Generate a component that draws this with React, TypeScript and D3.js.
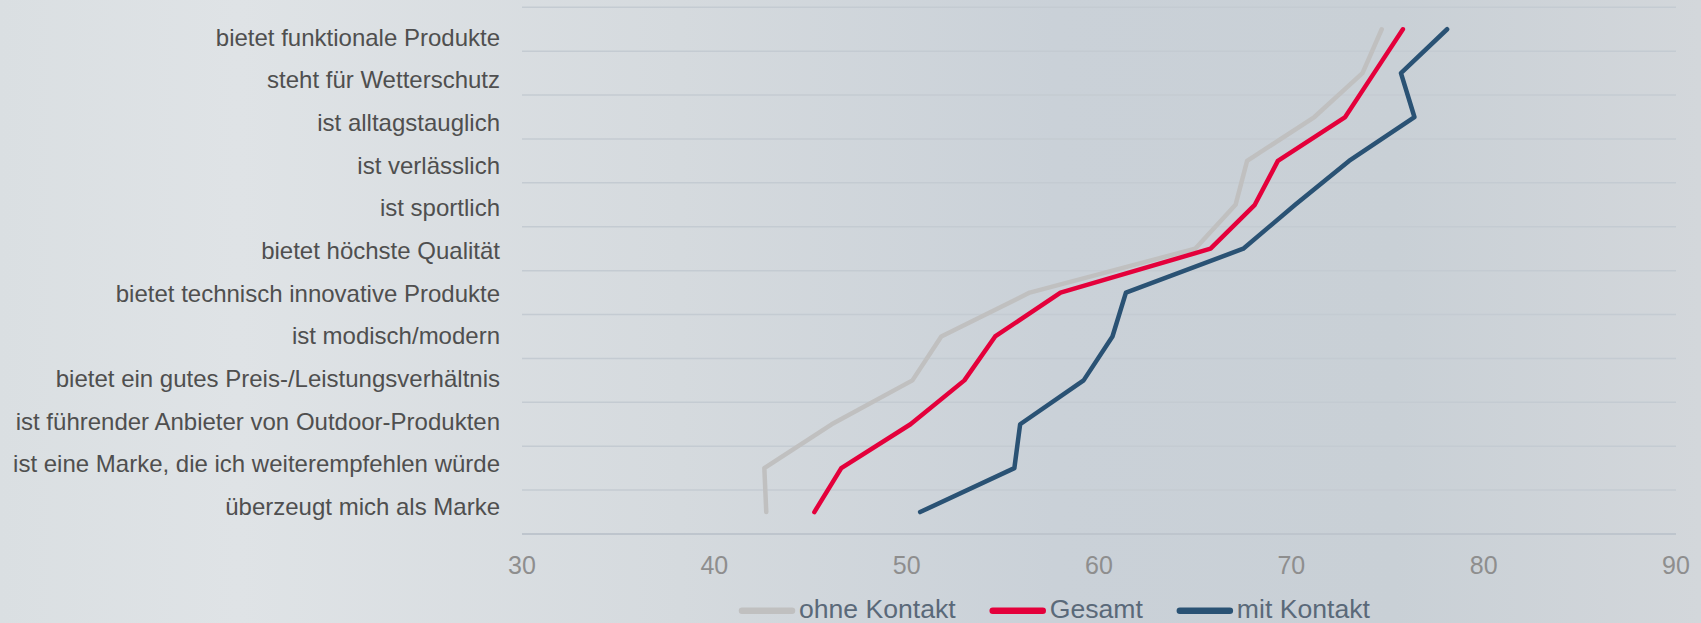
import * as d3 from "d3";
import { useEffect, useRef } from "react";

const categories = [
    "bietet funktionale Produkte",
    "steht für Wetterschutz",
    "ist alltagstauglich",
    "ist verlässlich",
    "ist sportlich",
    "bietet höchste Qualität",
    "bietet technisch innovative Produkte",
    "ist modisch/modern",
    "bietet ein gutes Preis-/Leistungsverhältnis",
    "ist führender Anbieter von Outdoor-Produkten",
    "ist eine Marke, die ich weiterempfehlen würde",
    "überzeugt mich als Marke",
];

const ohneKontakt = [74.7, 73.7, 71.2, 67.7, 67.1, 65.0, 56.4, 51.8, 50.3, 46.1, 42.6, 42.7];
const gesamt = [75.8, 74.3, 72.8, 69.3, 68.1, 65.8, 58.0, 54.6, 53.0, 50.2, 46.6, 45.2];
const mitKontakt = [78.1, 75.7, 76.4, 73.0, 70.2, 67.5, 61.4, 60.7, 59.2, 55.9, 55.6, 50.7];

const xTicks = [30, 40, 50, 60, 70, 80, 90];

const series = [
    { name: "ohne Kontakt", values: ohneKontakt, color: "#c0c0c0" },
    { name: "Gesamt", values: gesamt, color: "#e4003b" },
    { name: "mit Kontakt", values: mitKontakt, color: "#2a5274" },
];

const W = 1701;
const H = 623;

export default function App() {
    const ref = useRef<SVGSVGElement | null>(null);

    useEffect(() => {
        if (!ref.current) return;
        const svg = d3.select(ref.current);
        svg.selectAll("*").remove();

        const font = "'Liberation Sans', Arial, sans-serif";

        // background gradient
        const defs = svg.append("defs");
        const grad = defs.append("linearGradient")
            .attr("id", "bg")
            .attr("x1", "0").attr("x2", "1").attr("y1", "0").attr("y2", "0");
        [
            [0, "#dadfe2"],
            [0.14, "#dfe3e6"],
            [0.4, "#d5dade"],
            [0.62, "#cad1d8"],
            [0.82, "#c9d0d6"],
            [1, "#d3d7db"],
        ].forEach(([o, c]) => grad.append("stop").attr("offset", o as number).attr("stop-color", c as string));

        svg.append("rect").attr("width", W).attr("height", H).attr("fill", "url(#bg)");

        const x = d3.scaleLinear().domain([30, 90]).range([522, 1676]);
        const y = d3.scaleBand<string>().domain(categories).range([7.3, 534]).paddingInner(0).paddingOuter(0);
        const labelY = d3.scalePoint<string>().domain(categories).range([45.7, 515]);

        // gridlines
        const gridYs = categories.map(c => y(c)!).concat([y.range()[1]]);
        svg.append("g")
            .selectAll("line")
            .data(gridYs)
            .join("line")
            .attr("x1", x(30))
            .attr("x2", x(90))
            .attr("y1", d => d)
            .attr("y2", d => d)
            .attr("stroke", (d, i) => (i === gridYs.length - 1 ? "#bec5cd" : "#c4cbd2"))
            .attr("stroke-width", (d, i) => (i === gridYs.length - 1 ? 2 : 1.5));

        // category labels
        svg.append("g")
            .selectAll("text")
            .data(categories)
            .join("text")
            .attr("x", 500)
            .attr("y", d => labelY(d)!)
            .attr("text-anchor", "end")
            .attr("font-family", font)
            .attr("font-size", 24)
            .attr("fill", "#4f4f4f")
            .text(d => d);

        // x tick labels
        svg.append("g")
            .selectAll("text")
            .data(xTicks)
            .join("text")
            .attr("x", d => x(d))
            .attr("y", 574)
            .attr("text-anchor", "middle")
            .attr("font-family", font)
            .attr("font-size", 25)
            .attr("fill", "#8e8e8e")
            .text(d => d);

        // lines
        const line = d3.line<number>()
            .x(d => x(d))
            .y((d, i) => y(categories[i])! + y.bandwidth() / 2);

        series.forEach(s => {
            svg.append("path")
                .datum(s.values)
                .attr("d", line)
                .attr("fill", "none")
                .attr("stroke", s.color)
                .attr("stroke-width", 4.5)
                .attr("stroke-linecap", "round")
                .attr("stroke-linejoin", "round");
        });

        // legend
        const legend = svg.append("g");
        let cx = 742;
        const ly = 610.7;
        series.forEach(s => {
            legend.append("line")
                .attr("x1", cx)
                .attr("x2", cx + 50)
                .attr("y1", ly)
                .attr("y2", ly)
                .attr("stroke", s.color)
                .attr("stroke-width", 6.5)
                .attr("stroke-linecap", "round");
            const t = legend.append("text")
                .attr("x", cx + 57)
                .attr("y", 618.3)
                .attr("font-family", font)
                .attr("font-size", 26.6)
                .attr("fill", "#5a6979")
                .text(s.name);
            const w = (t.node() as SVGTextElement).getComputedTextLength();
            cx = cx + 57 + w + 37;
        });
    }, []);

    return (
        <svg
            ref={ref}
            width={W}
            height={H}
            style={{ position: "absolute", left: 0, top: 0, display: "block" }}
        />
    );
}
